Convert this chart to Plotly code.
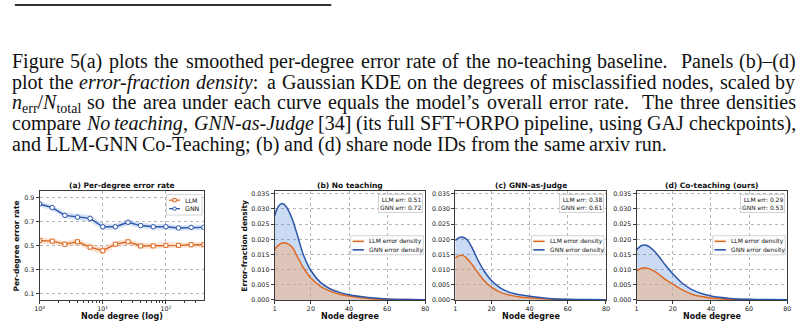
import glob, re, struct
import plotly.graph_objects as go

W, H = 806, 330
def X(px): return px / W
def Y(py): return 1 - py / H

# ---------------- data ----------------
# Panel (a): per-degree error rate (log-spaced degree bins)
deg_bins = [1, 1.585, 2.512, 3.981, 6.310, 10, 15.85, 25.12, 39.81, 63.10, 100, 158.5, 251.2, 398.1]
llm_rate = [0.545, 0.540, 0.515, 0.535, 0.490, 0.460, 0.515, 0.535, 0.500, 0.500, 0.505, 0.505, 0.510, 0.510]
llm_lo   = [0.520, 0.515, 0.490, 0.508, 0.462, 0.430, 0.490, 0.510, 0.476, 0.477, 0.482, 0.482, 0.487, 0.487]
llm_hi   = [0.570, 0.565, 0.540, 0.562, 0.518, 0.490, 0.540, 0.560, 0.524, 0.523, 0.528, 0.528, 0.533, 0.533]
gnn_rate = [0.850, 0.820, 0.755, 0.740, 0.730, 0.660, 0.660, 0.697, 0.670, 0.660, 0.660, 0.650, 0.655, 0.655]
gnn_lo   = [0.826, 0.797, 0.730, 0.715, 0.704, 0.632, 0.635, 0.673, 0.647, 0.638, 0.638, 0.628, 0.633, 0.633]
gnn_hi   = [0.874, 0.843, 0.780, 0.765, 0.756, 0.688, 0.685, 0.721, 0.693, 0.682, 0.682, 0.672, 0.677, 0.677]

# Panels (b)-(d): error-fraction densities
degree = [1, 3, 5, 7, 10, 13, 16, 20, 25, 30, 35, 40, 50, 60, 70, 80]
b_llm = [0.0167, 0.0181, 0.0188, 0.0188, 0.0175, 0.0142, 0.0107, 0.0072, 0.0045, 0.0029, 0.0019, 0.0013, 0.0005, 0.0002, 0.0001, 0.00003]
b_gnn = [0.0277, 0.0309, 0.0318, 0.0308, 0.0270, 0.0212, 0.0150, 0.0097, 0.0058, 0.0037, 0.0025, 0.0017, 0.0008, 0.0003, 0.0001, 0.00005]
c_llm = [0.0139, 0.0146, 0.0147, 0.0138, 0.0115, 0.0089, 0.0065, 0.0042, 0.0024, 0.0015, 0.0010, 0.0007, 0.0003, 0.0001, 0.00003, 0.00001]
c_gnn = [0.0196, 0.0205, 0.0207, 0.0200, 0.0170, 0.0130, 0.0097, 0.0064, 0.0038, 0.0024, 0.0017, 0.0012, 0.0005, 0.0002, 0.0001, 0.00003]
d_llm = [0.0095, 0.0103, 0.0106, 0.0104, 0.0096, 0.0083, 0.0068, 0.0052, 0.0033, 0.0019, 0.0011, 0.0006, 0.0002, 0.0001, 0.00003, 0.00001]
d_gnn = [0.0165, 0.0177, 0.0181, 0.0178, 0.0163, 0.0141, 0.0116, 0.0086, 0.0055, 0.0034, 0.0021, 0.0013, 0.0005, 0.0002, 0.0001, 0.00003]
err_llm = [0.51, 0.38, 0.29]
err_gnn = [0.72, 0.61, 0.53]
panel_titles = ["(a) Per-degree error rate", "(b) No teaching", "(c) GNN-as-Judge", "(d) Co-teaching (ours)"]

para_lines = [
    "Figure 5(a) plots the smoothed per-degree error rate of the no-teaching baseline. Panels (b)–(d)",
    "plot the <i>error-fraction density</i>: a Gaussian KDE on the degrees of misclassified nodes, scaled by",
    "<i>n</i><sub>err</sub>/<i>N</i><sub>total</sub> so the area under each curve equals the model’s overall error rate. The three densities",
    "compare <i>No teaching</i>, <i>GNN-as-Judge</i> [34] (its full SFT+ORPO pipeline, using GAJ checkpoints),",
    "and LLM-GNN Co-Teaching; (b) and (d) share node IDs from the same arxiv run.",
]
para_justify = [True, True, True, True, False]

# ---------------- style ----------------
ORANGE = "#dc6a23"
BLUE = "#2a55a8"
SANS = "DejaVu Sans"
SERIF = "Liberation Serif"
AX = "#3a3a3a"
GRID = "#b5b5b5"
TXT_SIZE = 20
TXT_LEFT, TXT_RIGHT = 7, 799
LINE_Y = [61.5, 82.3, 103.1, 123.9, 144.7]

PY_TOP, PY_BOT = 192.7, 302.6
panels_px = [(35, 201), (272.7, 425), (455.3, 607.7), (638.7, 791)]

fig = go.Figure()

# ---------- panel (a) ----------
fig.add_trace(go.Scatter(x=deg_bins, y=gnn_lo, mode="lines", line=dict(width=0), hoverinfo="skip",
                         showlegend=False, xaxis="x", yaxis="y"))
fig.add_trace(go.Scatter(x=deg_bins, y=gnn_hi, mode="lines", line=dict(width=0), fill="tonexty",
                         fillcolor="rgba(70,125,215,0.22)", showlegend=False, xaxis="x", yaxis="y"))
fig.add_trace(go.Scatter(x=deg_bins, y=llm_lo, mode="lines", line=dict(width=0), hoverinfo="skip",
                         showlegend=False, xaxis="x", yaxis="y"))
fig.add_trace(go.Scatter(x=deg_bins, y=llm_hi, mode="lines", line=dict(width=0), fill="tonexty",
                         fillcolor="rgba(240,140,75,0.25)", showlegend=False, xaxis="x", yaxis="y"))
fig.add_trace(go.Scatter(x=deg_bins, y=llm_rate, mode="lines+markers", line=dict(color=ORANGE, width=1.4),
                         marker=dict(symbol="square", size=4, color="white", line=dict(color=ORANGE, width=1)),
                         showlegend=False, xaxis="x", yaxis="y"))
fig.add_trace(go.Scatter(x=deg_bins, y=gnn_rate, mode="lines+markers", line=dict(color=BLUE, width=1.4),
                         marker=dict(symbol="circle", size=4.5, color="white", line=dict(color=BLUE, width=1)),
                         showlegend=False, xaxis="x", yaxis="y"))

# ---------- panels (b)-(d) ----------
dens = [(b_llm, b_gnn), (c_llm, c_gnn), (d_llm, d_gnn)]
for i, (ll, gg) in enumerate(dens):
    xa, ya = f"x{i+2}", f"y{i+2}"
    fig.add_trace(go.Scatter(x=degree, y=gg, mode="lines", line=dict(width=0, shape="spline"), fill="tozeroy",
                             fillcolor="rgba(70,125,215,0.28)", showlegend=False, xaxis=xa, yaxis=ya))
    fig.add_trace(go.Scatter(x=degree, y=ll, mode="lines", line=dict(width=0, shape="spline"), fill="tozeroy",
                             fillcolor="rgba(240,175,125,0.5)", showlegend=False, xaxis=xa, yaxis=ya))
    fig.add_trace(go.Scatter(x=degree, y=ll, mode="lines", line=dict(color=ORANGE, width=1.5, shape="spline"),
                             showlegend=False, xaxis=xa, yaxis=ya))
    fig.add_trace(go.Scatter(x=degree, y=gg, mode="lines", line=dict(color=BLUE, width=1.5, shape="spline"),
                             showlegend=False, xaxis=xa, yaxis=ya))

# ---------- axes ----------
tickfont = dict(family=SANS, size=6.3, color="#111")
common = dict(showline=True, linecolor=AX, linewidth=1, mirror=True, ticks="outside", ticklen=3,
              tickwidth=0.8, tickcolor=AX, tickfont=tickfont, showgrid=True, gridcolor=GRID,
              gridwidth=0.7, griddash="dot", zeroline=False, layer="above traces")
layout_axes = {}
x0, x1 = panels_px[0]
layout_axes["xaxis"] = dict(common, domain=[X(x0), X(x1)], type="log", range=[0, 2.6],
                            tickvals=[1, 10, 100],
                            ticktext=["10<sup>0</sup>", "10<sup>1</sup>", "10<sup>2</sup>"],
                            minor=dict(tickvals=[m * 10 ** e for e in range(3) for m in range(2, 10)],
                                       ticks="outside", ticklen=1.8, tickwidth=0.6, tickcolor=AX, showgrid=False),
                            anchor="y")
layout_axes["yaxis"] = dict(common, domain=[Y(PY_BOT), Y(PY_TOP)], range=[0.05, 0.955],
                            tickvals=[0.1, 0.3, 0.5, 0.7, 0.9], tickformat=".1f", anchor="x")
for i in range(1, 4):
    x0, x1 = panels_px[i]
    layout_axes[f"xaxis{i+1}"] = dict(common, domain=[X(x0), X(x1)], range=[1, 80],
                                      tickvals=[1, 20, 40, 60, 80], anchor=f"y{i+1}")
    layout_axes[f"yaxis{i+1}"] = dict(common, domain=[Y(PY_BOT), Y(PY_TOP)], range=[0, 0.0358],
                                      tickvals=[0, 0.005, 0.01, 0.015, 0.02, 0.025, 0.03, 0.035],
                                      tickformat=".3f", anchor=f"x{i+1}")

shapes = []
annotations = []

def ann(text, px, py, size, xanchor="center", yanchor="middle", family=SANS, angle=0, color="#111", **kw):
    annotations.append(dict(text=text, x=X(px), y=Y(py), xref="paper", yref="paper", showarrow=False,
                            xanchor=xanchor, yanchor=yanchor, textangle=angle,
                            font=dict(family=family, size=size, color=color), **kw))

# titles and axis titles
for i, (x0, x1) in enumerate(panels_px):
    cx = (x0 + x1) / 2
    ann(f"<b>{panel_titles[i]}</b>", cx, 186.5, 7.5)
    ann("<b>Node degree (log)</b>" if i == 0 else "<b>Node degree</b>", cx, 319, 8)
ann("<b>Per-degree error rate</b>", 12, (PY_TOP + PY_BOT) / 2, 7.5, angle=-90)
ann("<b>Error-fraction density</b>", 242.7, (PY_TOP + PY_BOT) / 2, 7.5, angle=-90)

# legend (a)
shapes.append(dict(type="rect", xref="paper", yref="paper", x0=X(163.3), x1=X(199.3), y0=Y(216.7), y1=Y(196),
                   line=dict(color="#c8c8c8", width=0.8), fillcolor="rgba(255,255,255,0.85)", layer="above"))
for k, (lab, col, sym) in enumerate([("LLM", ORANGE, "rect"), ("GNN", BLUE, "circle")]):
    yy = 201.6 + k * 8.6
    shapes.append(dict(type="line", xref="paper", yref="paper", x0=X(166), x1=X(177), y0=Y(yy), y1=Y(yy),
                       line=dict(color=col, width=1.3), layer="above"))
    shapes.append(dict(type=sym, xref="paper", yref="paper", x0=X(169.8), x1=X(173.2), y0=Y(yy + 1.7), y1=Y(yy - 1.7),
                       line=dict(color=col, width=1), fillcolor="white", layer="above"))
    ann(lab, 180.5, yy, 6.3, xanchor="left")

# legends / error boxes (b)-(d)
for i in range(1, 4):
    xr = panels_px[i][1]
    shapes.append(dict(type="rect", xref="paper", yref="paper", x0=X(xr - 75.3), x1=X(xr - 2), y0=Y(256.9), y1=Y(237.6),
                       line=dict(color="#c8c8c8", width=0.8), fillcolor="rgba(255,255,255,0.85)", layer="above"))
    for k, (lab, col) in enumerate([("LLM error density", ORANGE), ("GNN error density", BLUE)]):
        yy = 243.3 + k * 8.6
        shapes.append(dict(type="line", xref="paper", yref="paper", x0=X(xr - 73.5), x1=X(xr - 62), y0=Y(yy), y1=Y(yy),
                           line=dict(color=col, width=1.6), layer="above"))
        ann(lab, xr - 58.7, yy, 6, xanchor="left")
    ann(f"LLM err: {err_llm[i-1]:.2f}<br>GNN err: {err_gnn[i-1]:.2f}", xr - 2.2, 195.6, 6,
        xanchor="right", yanchor="top", align="right", bgcolor="white", bordercolor="#c8c8c8",
        borderwidth=0.8, borderpad=1.2)

# ---------- paragraph text (justified word by word using font metrics) ----------
def parse_ttf(path):
    data = open(path, "rb").read()
    ntab = struct.unpack(">H", data[4:6])[0]
    tabs = {}
    for t in range(ntab):
        rec = data[12 + 16 * t: 28 + 16 * t]
        tabs[rec[:4].decode("latin1")] = struct.unpack(">II", rec[8:16])
    ho = tabs["head"][0]
    upem = struct.unpack(">H", data[ho + 18: ho + 20])[0]
    hh = tabs["hhea"][0]
    nhm = struct.unpack(">H", data[hh + 34: hh + 36])[0]
    hm = tabs["hmtx"][0]
    adv = [struct.unpack(">H", data[hm + 4 * g: hm + 4 * g + 2])[0] for g in range(nhm)]
    cm = tabs["cmap"][0]
    nsub = struct.unpack(">H", data[cm + 2: cm + 4])[0]
    cmap = {}
    for s in range(nsub):
        pid, eid, soff = struct.unpack(">HHI", data[cm + 4 + 8 * s: cm + 12 + 8 * s])
        if pid == 3 and eid == 1:
            st = cm + soff
            if struct.unpack(">H", data[st: st + 2])[0] != 4:
                continue
            segx2 = struct.unpack(">H", data[st + 6: st + 8])[0]
            seg = segx2 // 2
            ends = struct.unpack(f">{seg}H", data[st + 14: st + 14 + segx2])
            starts = struct.unpack(f">{seg}H", data[st + 16 + segx2: st + 16 + 2 * segx2])
            deltas = struct.unpack(f">{seg}h", data[st + 16 + 2 * segx2: st + 16 + 3 * segx2])
            rpos = st + 16 + 3 * segx2
            roffs = struct.unpack(f">{seg}H", data[rpos: rpos + segx2])
            for k in range(seg):
                for c in range(starts[k], min(ends[k], 0x2100) + 1):
                    if roffs[k] == 0:
                        g = (c + deltas[k]) & 0xFFFF
                    else:
                        a = rpos + 2 * k + roffs[k] + 2 * (c - starts[k])
                        g = struct.unpack(">H", data[a: a + 2])[0]
                        if g:
                            g = (g + deltas[k]) & 0xFFFF
                    cmap[c] = g
            break
    return upem, adv, cmap

def find_font(name):
    for root in ("/usr/share/fonts", "/usr/local/share/fonts", "/usr/share/fonts/truetype"):
        hits = glob.glob(f"{root}/**/{name}", recursive=True)
        if hits:
            return hits[0]
    return None

metrics = None
try:
    p_reg, p_it = find_font("LiberationSerif-Regular.ttf"), find_font("LiberationSerif-Italic.ttf")
    if p_reg and p_it:
        metrics = {False: parse_ttf(p_reg), True: parse_ttf(p_it)}
except Exception:
    metrics = None

def text_width(s, italic, size):
    upem, adv, cmap = metrics[italic]
    tot = 0
    for ch in s:
        g = cmap.get(ord(ch), 0)
        tot += adv[min(g, len(adv) - 1)]
    return tot / upem * size

def split_words(line):
    chars = []
    it = sb = False
    for piece in re.split(r"(</?i>|</?sub>)", line):
        if piece == "<i>": it = True
        elif piece == "</i>": it = False
        elif piece == "<sub>": sb = True
        elif piece == "</sub>": sb = False
        else:
            chars += [(c, it, sb) for c in piece]
    words, cur = [], []
    for c in chars + [(" ", False, False)]:
        if c[0] == " ":
            if cur:
                words.append(cur)
            cur = []
        else:
            cur.append(c)
    out = []
    for w in words:
        runs = []
        for c, it, sb in w:
            if runs and runs[-1][1] == it and runs[-1][2] == sb:
                runs[-1][0] += c
            else:
                runs.append([c, it, sb])
        out.append(runs)
    return out

def word_html(runs):
    h = ""
    for t, it, sb in runs:
        s = f"<sub>{t}</sub>" if sb else t
        h += f"<i>{s}</i>" if it else s
    return h

def gap_weight(runs):
    last = runs[-1][0][-1]
    return {".": 2.0, ":": 1.5, ";": 1.3, ",": 1.15}.get(last, 1.0)

if metrics:
    space = text_width(" ", False, TXT_SIZE)
    for line, just, yc in zip(para_lines, para_justify, LINE_Y):
        words = split_words(line)
        widths = [sum(text_width(t, it, TXT_SIZE * (0.7 if sb else 1)) for t, it, sb in w) for w in words]
        if just:
            weights = [gap_weight(w) for w in words[:-1]]
            unit = (TXT_RIGHT - TXT_LEFT - sum(widths)) / sum(weights)
        else:
            weights = [1.0] * (len(words) - 1)
            unit = space * 1.05
        xx = TXT_LEFT
        for k, (w, wd) in enumerate(zip(words, widths)):
            ann(word_html(w), xx, yc - 0.575 * TXT_SIZE, TXT_SIZE, xanchor="left", yanchor="top",
                family=SERIF, borderpad=0, borderwidth=0)
            if k < len(weights):
                xx += wd + unit * weights[k]
else:
    for line, just, yc in zip(para_lines, para_justify, LINE_Y):
        ann(line, TXT_LEFT, yc, TXT_SIZE - 0.8, xanchor="left", family=SERIF)

# top rule
shapes.append(dict(type="line", xref="paper", yref="paper", x0=X(10), x1=X(330), y0=Y(4), y1=Y(4),
                   line=dict(color="#333", width=2)))

fig.update_layout(width=W, height=H, margin=dict(l=0, r=0, t=0, b=0), paper_bgcolor="white",
                  plot_bgcolor="white", showlegend=False, shapes=shapes, annotations=annotations,
                  **layout_axes)
fig.write_html("out.html")
